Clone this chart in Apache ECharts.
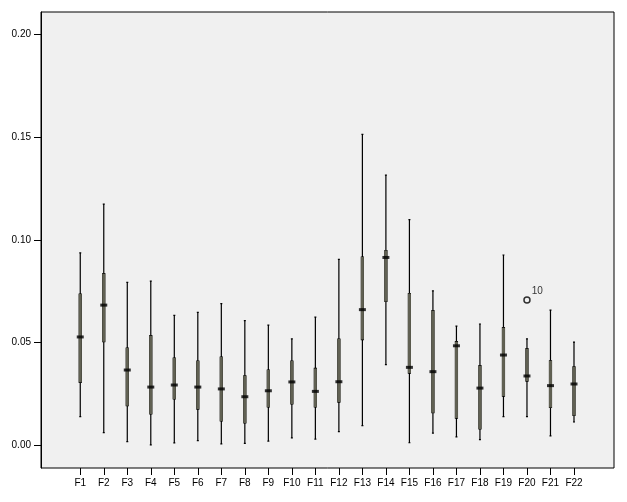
<!DOCTYPE html>
<html>
<head>
<meta charset="utf-8">
<script src="https://cdn.jsdelivr.net/npm/echarts@6/dist/echarts.min.js"></script>
<style>
  html, body { margin: 0; padding: 0; background: #fff; }
  #chart { width: 627px; height: 502px; }
</style>
</head>
<body>
<div id="chart"></div>
<script>
const categories = ['F1', 'F2', 'F3', 'F4', 'F5', 'F6', 'F7', 'F8', 'F9', 'F10', 'F11',
  'F12', 'F13', 'F14', 'F15', 'F16', 'F17', 'F18', 'F19', 'F20', 'F21', 'F22']
const mins = [0.0140, 0.0062, 0.0018, 0.0003, 0.0012, 0.0023, 0.0007, 0.0010, 0.0021, 0.0037, 0.0031,
  0.0067, 0.0096, 0.0393, 0.0013, 0.0060, 0.0042, 0.0028, 0.0140, 0.0140, 0.0046, 0.0114]
const q1s = [0.0307, 0.0505, 0.0193, 0.0153, 0.0226, 0.0177, 0.0119, 0.0109, 0.0187, 0.0202, 0.0187,
  0.0211, 0.0515, 0.0701, 0.0352, 0.0159, 0.0133, 0.0080, 0.0240, 0.0313, 0.0185, 0.0146]
const medians = [0.0528, 0.0683, 0.0367, 0.0284, 0.0294, 0.0284, 0.0275, 0.0237, 0.0266, 0.0309, 0.0263,
  0.0310, 0.0661, 0.0915, 0.0380, 0.0359, 0.0485, 0.0279, 0.0440, 0.0338, 0.0291, 0.0299]
const q3s = [0.0737, 0.0836, 0.0474, 0.0534, 0.0425, 0.0411, 0.0430, 0.0339, 0.0367, 0.0411, 0.0375,
  0.0518, 0.0917, 0.0949, 0.0739, 0.0656, 0.0505, 0.0388, 0.0573, 0.0471, 0.0412, 0.0383]
const maxs = [0.0937, 0.1175, 0.0794, 0.0800, 0.0633, 0.0648, 0.0690, 0.0607, 0.0586, 0.0519, 0.0625,
  0.0906, 0.1514, 0.1316, 0.1099, 0.0752, 0.0581, 0.0591, 0.0927, 0.0519, 0.0659, 0.0503]
// outlier: case 10 in F20
const outliers = [['F20', 0.0708, '10']]
const tickLabels = [0, 0.05, 0.1, 0.15, 0.2]

const yMin = -0.011
const yMax = 0.211
const font = 'Liberation Sans, Arial, sans-serif'

const chart = echarts.init(document.getElementById('chart'))
chart.setOption({
  animation: false,
  grid: [
    { left: 41, right: 13, top: 12, bottom: 34, show: true, backgroundColor: '#f0f0f0', borderColor: '#000', borderWidth: 1 },
    { left: 68.5, right: 41.25, top: 12, bottom: 34 },
  ],
  xAxis: [
    { gridIndex: 0, type: 'value', show: false, min: 0, max: 1 },
    {
      gridIndex: 1,
      type: 'category',
      data: categories,
      axisLine: { show: false, onZero: false },
      axisTick: { show: true, alignWithLabel: true, length: 7, lineStyle: { color: '#000' } },
      axisLabel: { color: '#000', fontSize: 10, fontFamily: font, margin: 10, interval: 0 },
    },
    // second category axis so the boxes are not grouped beside the whiskers
    { gridIndex: 1, type: 'category', data: categories, show: false },
  ],
  yAxis: [
    {
      gridIndex: 0,
      type: 'value',
      min: yMin,
      max: yMax,
      splitLine: { show: false },
      axisLine: { show: true, lineStyle: { color: '#000' } },
      axisTick: { show: true, length: 7, customValues: tickLabels, lineStyle: { color: '#000' } },
      axisLabel: {
        customValues: tickLabels,
        color: '#000', fontSize: 10, fontFamily: font, margin: 10,
        formatter: (v) => v.toFixed(2),
      },
    },
    { gridIndex: 1, type: 'value', min: yMin, max: yMax, show: false, splitLine: { show: false } },
  ],
  series: [
    {
      // whiskers
      type: 'boxplot',
      xAxisIndex: 1,
      yAxisIndex: 1,
      boxWidth: [2, 2],
      itemStyle: { color: '#000', borderColor: '#000', borderWidth: 1.2 },
      data: categories.map((c, i) => [mins[i], q1s[i], medians[i], q3s[i], maxs[i]]),
    },
    {
      // boxes
      type: 'boxplot',
      xAxisIndex: 2,
      yAxisIndex: 1,
      boxWidth: [3, 3],
      itemStyle: { color: '#616153', borderColor: '#616153', borderWidth: 0 },
      data: categories.map((c, i) => [q1s[i], q1s[i], medians[i], q3s[i], q3s[i]]),
    },
    {
      // medians
      type: 'scatter',
      xAxisIndex: 1,
      yAxisIndex: 1,
      symbol: 'rect',
      symbolSize: [7, 3],
      itemStyle: { color: '#000' },
      data: medians,
    },
    {
      type: 'scatter',
      xAxisIndex: 1,
      yAxisIndex: 1,
      symbol: 'circle',
      symbolSize: 6,
      itemStyle: { color: '#f0f0f0', borderColor: '#000', borderWidth: 1.5 },
      label: {
        show: true,
        position: [8.5, -10],
        formatter: (p) => p.data[2],
        color: '#000',
        fontSize: 10,
        fontFamily: font,
      },
      data: outliers,
    },
  ],
})
</script>
</body>
</html>
